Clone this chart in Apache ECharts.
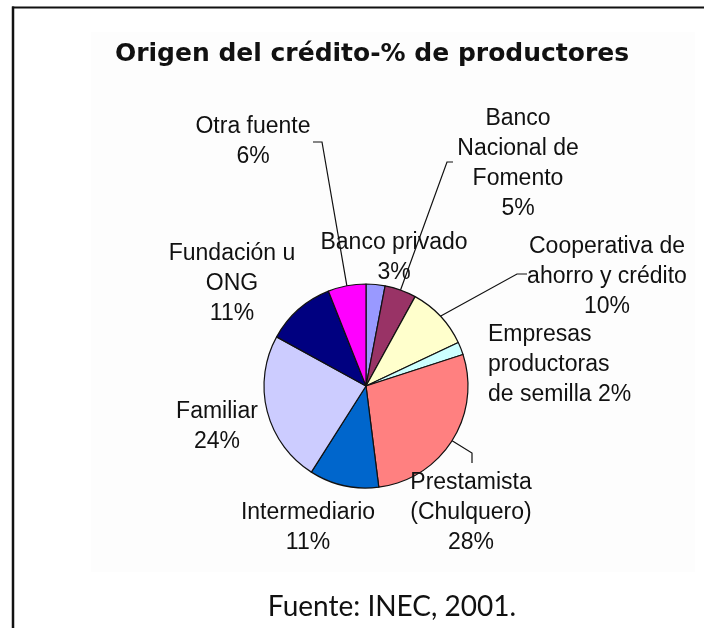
<!DOCTYPE html>
<html>
<head>
<meta charset="utf-8">
<script src="https://cdn.jsdelivr.net/npm/echarts@6/dist/echarts.min.js"></script>
<style>
  html, body { margin: 0; padding: 0; background: #fff; }
  #chart { width: 704px; height: 628px; }
</style>
</head>
<body>
<div id="chart"></div>
<script>
  // data, clockwise from 12 o'clock
  const categories = [
    'Banco privado',
    'Banco\nNacional de\nFomento',
    'Cooperativa de\nahorro y crédito',
    'Empresas\nproductoras\nde semilla',
    'Prestamista\n(Chulquero)',
    'Intermediario',
    'Familiar',
    'Fundación u\nONG',
    'Otra fuente'
  ]
  const shares = [3, 5, 10, 2, 28, 11, 24, 11, 6]
  const colors = ['#9999FF', '#993366', '#FFFFCC', '#CCFFFF', '#FF8080', '#0066CC', '#CCCCFF', '#000080', '#FF00FF']

  // label layout: [x, y (block middle), align], and leader bends (null = no leader)
  const labelPos = [
    [394, 258, 'center'],
    [518, 164, 'center'],
    [607, 277, 'center'],
    [488, 365, 'left'],
    [471, 513, 'center'],
    [308, 528, 'center'],
    [217, 427, 'center'],
    [232, 284, 'center'],
    [253, 142, 'center']
  ]
  const leaders = [
    null,
    [[447, 162], [453, 162]],
    [[517, 274], [527, 274]],
    null,
    [[472, 453], [472, 463]],
    null,
    null,
    null,
    [[322, 142], [313, 142]]
  ]

  const center = [366, 386]
  const radius = 102

  const chart = echarts.init(document.getElementById('chart'), null, { renderer: 'canvas' })

  const pieData = categories.map((name, i) => ({
    name: name,
    value: shares[i],
    itemStyle: { color: colors[i] },
    labelLine: { show: leaders[i] !== null }
  }))

  // edge point of a slice at its middle angle, used if the library gives none
  const edgePoint = (i) => {
    const total = shares.reduce((a, b) => a + b, 0)
    let before = 0
    for (let k = 0; k < i; k++) before += shares[k]
    const ang = ((before + shares[i] / 2) / total) * Math.PI * 2
    return [center[0] + radius * Math.sin(ang), center[1] - radius * Math.cos(ang)]
  }

  const option = {
    animation: false,
    backgroundColor: '#fff',
    title: {
      text: 'Origen del crédito-% de productores',
      left: 367,
      top: 37,
      textAlign: 'center',
      textStyle: {
        fontFamily: 'DejaVu Sans',
        fontWeight: 'bold',
        fontSize: 25,
        color: '#111'
      }
    },
    graphic: [
      {
        type: 'rect',
        z: -10,
        shape: { x: 91, y: 32, width: 604, height: 540 },
        style: { fill: '#fdfdfd' }
      },
      {
        type: 'line',
        shape: { x1: 12, y1: 7.5, x2: 704, y2: 7.5 },
        style: { stroke: '#111', lineWidth: 2 }
      },
      {
        type: 'line',
        shape: { x1: 13, y1: 6.5, x2: 13, y2: 628 },
        style: { stroke: '#111', lineWidth: 2.5 }
      },
      {
        type: 'text',
        style: {
          text: 'Fuente: INEC, 2001.',
          x: 392,
          y: 607,
          align: 'center',
          verticalAlign: 'middle',
          fontFamily: 'Lato',
          fontSize: 28,
          fill: '#111'
        }
      }
    ],
    series: [
      {
        type: 'pie',
        center: center,
        radius: radius,
        startAngle: 90,
        clockwise: true,
        silent: true,
        data: pieData,
        itemStyle: { borderColor: '#111', borderWidth: 1.2 },
        label: {
          show: true,
          position: 'outside',
          color: '#111',
          fontFamily: 'Liberation Sans',
          fontSize: 23,
          lineHeight: 30,
          formatter: (p) => p.name + (p.name.endsWith('semilla') ? ' ' : '\n') + p.value + '%'
        },
        labelLine: {
          lineStyle: { color: '#111', width: 1.2 }
        },
        labelLayout: (params) => {
          const i = params.dataIndex
          const pos = labelPos[i]
          const out = { x: pos[0], y: pos[1], align: pos[2], verticalAlign: 'middle' }
          if (leaders[i]) {
            const start = params.labelLinePoints ? params.labelLinePoints[0] : edgePoint(i)
            out.labelLinePoints = [start, leaders[i][0], leaders[i][1]]
          }
          return out
        }
      }
    ]
  }

  chart.setOption(option)
</script>
</body>
</html>
